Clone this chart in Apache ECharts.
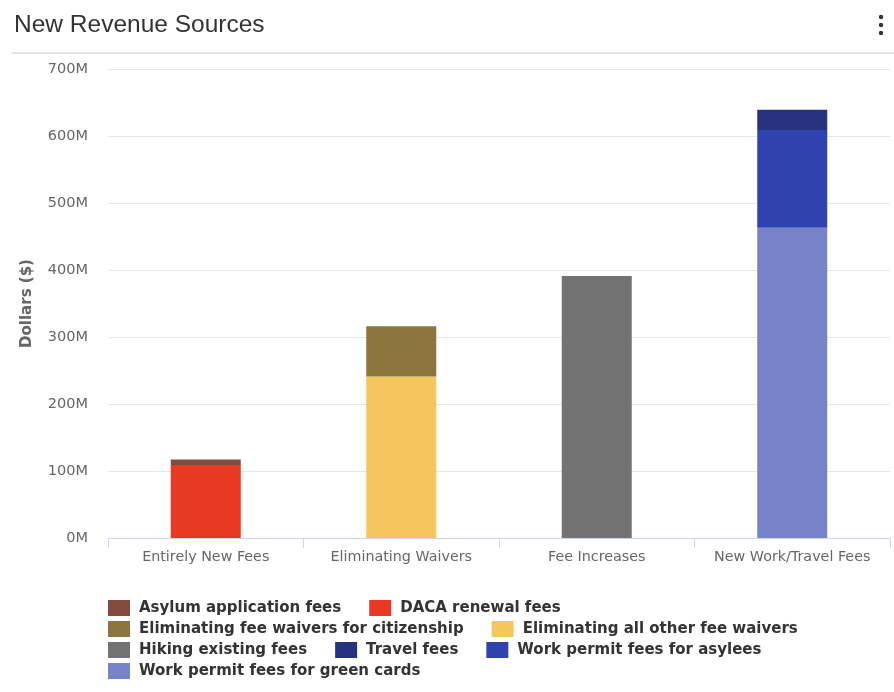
<!DOCTYPE html>
<html><head><meta charset="utf-8">
<script src="https://cdn.jsdelivr.net/npm/echarts@6/dist/echarts.min.js"></script>
<style>html,body{margin:0;padding:0;background:#fff}#c{width:894px;height:692px}</style>
</head><body><div id="c"></div>
<script>
const categories = ["Entirely New Fees", "Eliminating Waivers", "Fee Increases", "New Work/Travel Fees"];
const yTicks = [0, 100, 200, 300, 400, 500, 600, 700];
// values in millions of dollars, one per category
const asylumFees      = [8, null, null, null];
const dacaFees        = [109, null, null, null];
const waiversCitizen  = [null, 75, null, null];
const waiversOther    = [null, 241, null, null];
const hikingFees      = [null, null, 391, null];
const travelFees      = [null, null, null, 30];
const permitAsylees   = [null, null, null, 146];
const permitGreen     = [null, null, null, 463];

const names = {
  asylum: "Asylum application fees",
  daca: "DACA renewal fees",
  cit: "Eliminating fee waivers for citizenship",
  other: "Eliminating all other fee waivers",
  hike: "Hiking existing fees",
  travel: "Travel fees",
  asylees: "Work permit fees for asylees",
  green: "Work permit fees for green cards"
};
const colors = {
  asylum: "#834a3e", daca: "#e83a22", cit: "#8d763e", other: "#f5c65e",
  hike: "#727272", travel: "#27337f", asylees: "#3042ae", green: "#7884c9"
};
// stacking order bottom -> top
const stackOrder = [
  ["daca", dacaFees], ["asylum", asylumFees],
  ["other", waiversOther], ["cit", waiversCitizen],
  ["hike", hikingFees],
  ["green", permitGreen], ["asylees", permitAsylees], ["travel", travelFees]
];

const legendRows = [
  ["asylum", "daca"],
  ["cit", "other"],
  ["hike", "travel", "asylees"],
  ["green"]
];
const font = "DejaVu Sans, sans-serif";

const chart = echarts.init(document.getElementById('c'), null, {renderer: 'canvas'});
chart.setOption({
  animation: false,
  title: {
    text: "New Revenue Sources", left: 9, top: 8,
    textStyle: {fontFamily: "Liberation Sans, Arial, sans-serif", fontSize: 24.5, fontWeight: 'normal', color: '#333'}
  },
  graphic: [
    {type: 'line', shape: {x1: 12, y1: 53, x2: 894, y2: 53}, style: {stroke: '#dcdcdc', lineWidth: 1.5}},
    {type: 'circle', shape: {cx: 881, cy: 17, r: 2.2}, style: {fill: '#333'}},
    {type: 'circle', shape: {cx: 881, cy: 25, r: 2.2}, style: {fill: '#333'}},
    {type: 'circle', shape: {cx: 881, cy: 33, r: 2.2}, style: {fill: '#333'}}
  ],
  legend: legendRows.map((row, i) => ({
    data: row.map(k => names[k]),
    left: 108, top: 600 + i * 21, padding: 0,
    orient: 'horizontal',
    itemWidth: 22, itemHeight: 16, itemGap: 28,
    icon: 'rect',
    textStyle: {fontFamily: font, fontSize: 15, fontWeight: 'bold', color: '#333', padding: [0, 0, 0, 4]}
  })),
  grid: {left: 108, right: 4, top: 69, bottom: 154, containLabel: false},
  xAxis: {
    type: 'category', data: categories,
    axisLine: {lineStyle: {color: '#ccd6eb'}},
    axisTick: {show: true, interval: 0, alignWithLabel: false, length: 10, lineStyle: {color: '#ccd6eb'}},
    axisLabel: {interval: 0, fontFamily: font, fontSize: 14.3, color: '#666', margin: 12}
  },
  yAxis: {
    type: 'value', min: yTicks[0], max: yTicks[yTicks.length - 1], interval: 100,
    name: "Dollars ($)", nameLocation: 'middle', nameGap: 73, nameRotate: 90,
    nameTextStyle: {fontFamily: font, fontSize: 15, fontWeight: 'bold', color: '#666'},
    axisLabel: {formatter: v => v + 'M', fontFamily: font, fontSize: 14.5, color: '#666', margin: 20},
    splitLine: {lineStyle: {color: '#e6e6e6'}},
    axisLine: {show: false}, axisTick: {show: false}
  },
  series: stackOrder.map(([k, arr]) => ({
    name: names[k], type: 'bar', stack: 'total', data: arr,
    barWidth: 70,
    itemStyle: {color: colors[k]}
  }))
});
</script></body></html>
